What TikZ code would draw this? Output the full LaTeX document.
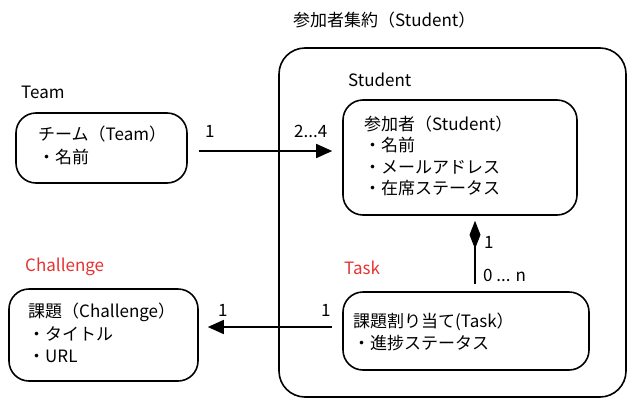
\documentclass[tikz,border=0pt]{standalone}
\usepackage{fontspec}
\setmainfont{Noto Sans CJK JP}
\usetikzlibrary{arrows.meta}
\begin{document}
\begin{tikzpicture}[x=1pt,y=-1pt,
  box/.style={draw=black,line width=1.6pt,rounded corners=20pt,inner sep=0pt},
  txt/.style={anchor=west,inner sep=0pt,font=\fontsize{17}{20}\selectfont},
  lbl/.style={anchor=west,inner sep=0pt,font=\fontsize{17}{20}\selectfont},
  red/.style={text={rgb,255:red,230;green,50;blue,50}},
  conn/.style={line width=1.6pt}]
\useasboundingbox (0,0) rectangle (636,407);
% outer aggregate
\node[box,rounded corners=26pt,minimum width=347pt,minimum height=349pt] (agg) at (452.5,222.5) {};
\node[lbl] (aggt) at (293,20) {参加者集約（Student）};
% student
\node[lbl] (studl) at (348,80) {Student};
\node[box,minimum width=234pt,minimum height=115pt] (student) at (460,157.5) {};
\node[txt] (s1) at (364,124) {参加者（Student）};
\node[txt] (s2) at (364,145) {・名前};
\node[txt] (s3) at (364,167) {・メールアドレス};
\node[txt] (s4) at (364,188) {・在席ステータス};
% team
\node[lbl] (teaml) at (21,92) {Team};
\node[box,minimum width=171pt,minimum height=70pt] (team) at (101.5,148) {};
\node[txt] (t1) at (38,134) {チーム（Team）};
\node[txt] (t2) at (38,157) {・名前};
% task
\node[lbl,red] (taskl) at (344,268) {Task};
\node[box,minimum width=246pt,minimum height=78pt] (task) at (466,331) {};
\node[txt] (k1) at (353,322) {課題割り当て(Task）};
\node[txt] (k2) at (353,343) {・進捗ステータス};
% challenge
\node[lbl,red] (chl) at (25,267) {Challenge};
\node[box,minimum width=189pt,minimum height=92pt] (chal) at (103.5,335) {};
\node[txt] (c1) at (28,312) {課題（Challenge）};
\node[txt] (c2) at (28,334) {・タイトル};
\node[txt] (c3) at (28,356) {・URL};
% connectors
\draw[conn,-{Triangle[length=16pt,width=14pt]},shorten <=11pt,shorten >=10pt]
  ([yshift=-3pt]team.east) -- ([yshift=-3pt]student.west |- team.east);
\node[lbl] (m1) at (205,131) {1};
\node[lbl] (m2) at (294,131) {2...4};
\draw[conn,{Diamond[length=28pt,width=11pt]}-,shorten <=5pt,shorten >=7pt]
  (student.south -| 475,0) -- (task.north -| 475,0);
\node[lbl] (m3) at (484,242) {1};
\node[lbl] (m4) at (483,275) {0 ... n};
\draw[conn,-{Triangle[length=16pt,width=14pt]},shorten <=10pt,shorten >=9pt]
  ([yshift=4pt]task.west) -- ([yshift=4pt]chal.east |- task.west);
\node[lbl] (m5) at (218,310) {1};
\node[lbl] (m6) at (321,310) {1};
\end{tikzpicture}
\end{document}
